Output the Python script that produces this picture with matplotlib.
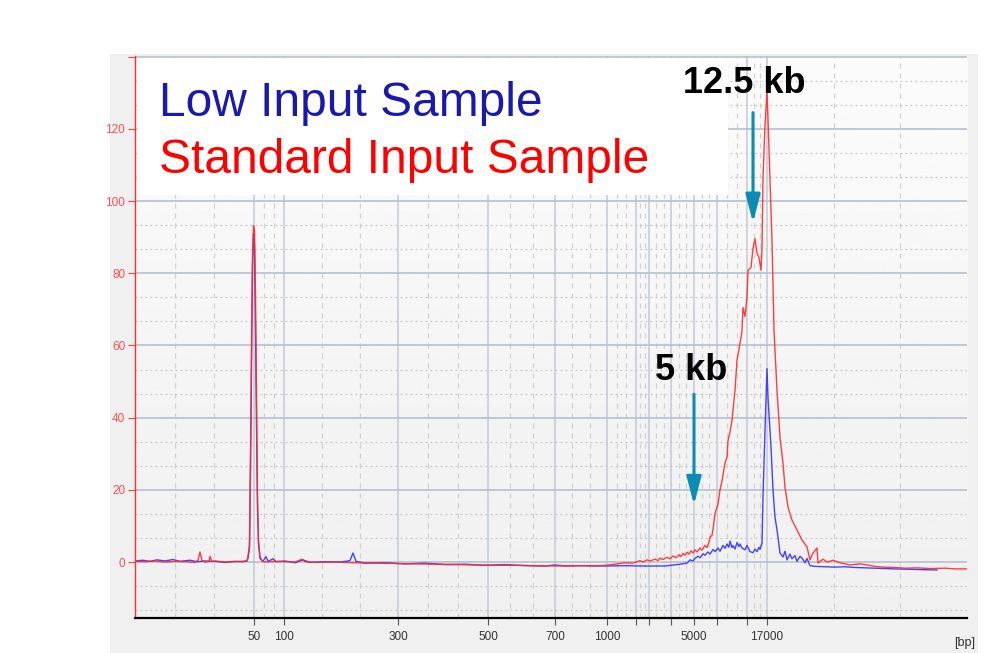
import numpy as np
import matplotlib
matplotlib.use("Agg")
import matplotlib.pyplot as plt
from matplotlib.patches import Rectangle

# ---------------- data (x = migration position, arbitrary units 0..832) ----------------
tick_labels = ["50", "100", "300", "500", "700", "1000", "2000", "5000", "17000"]
tick_pos = [119, 149, 263, 353, 420, 472, 513, 559, 632]
ladder_grid_pos = [0, 119, 149, 263, 353, 420, 472, 501, 514, 536, 559, 582, 612, 632, 832]

std_x = [0, 10, 20, 30, 40, 50, 60, 63, 65, 67, 70, 74, 75, 77, 80, 90, 100, 108, 112,
         113, 114.5, 115.5, 116.5, 117.5, 118.5, 119.5, 120.5, 121.5, 122.5, 123.5, 125,
         127, 130, 140, 150, 160, 167, 170, 180, 200, 220, 240, 260, 280, 300, 320, 340,
         360, 380, 400, 420, 440, 460, 465, 470, 480, 490, 498, 502, 505, 508, 512, 515,
         520, 523, 525, 528, 532, 535, 538, 541, 544, 546, 548, 550, 552, 554, 556, 558,
         560, 562, 565, 567, 570, 572, 574, 575, 577, 578, 580, 583, 585, 587, 590, 592,
         593, 595, 597, 600, 602, 605, 607, 608, 610, 612, 613, 616, 618, 620, 622, 624,
         626, 627, 628, 630, 632, 633, 635, 637, 639, 640, 642, 645, 648, 650, 653, 657,
         662, 667, 672, 675, 678, 682, 683, 688, 692, 698, 705, 715, 725, 732, 740, 748,
         760, 770, 782, 795, 810, 820, 832]
std_y = [0.2, 0.1, 0.3, 0.0, 0.2, 0.1, -0.1, 0.5, 2.8, 0.4, 0.0, 0.2, 1.6, 0.1, 0.3, 0.0,
         0.1, 0.2, 0.4, 1.5, 5, 30, 60, 85, 93.2, 92, 75, 45, 18, 6, 1.5, 0.3, 0.0, 0.2,
         0.1, 0.0, 0.8, 0.1, -0.1, 0.0, -0.2, -0.3, -0.4, -0.5, -0.6, -0.7, -0.8, -0.9,
         -0.9, -1.0, -1.1, -1.0, -1.1, -1.0, -0.9, -0.6, -0.2, -0.3, 0.1, 0.4, 0.0, 0.6,
         0.3, 0.8, 0.4, 1.1, 0.7, 1.3, 0.9, 1.7, 1.2, 2.0, 1.5, 2.4, 1.9, 2.7, 2.2, 3.1,
         2.5, 3.4, 2.8, 3.9, 3.3, 4.6, 4.0, 5.5, 6.9, 7.4, 9.0, 13.5, 16.0, 20, 22.5, 27.4,
         29.0, 33.7, 36.0, 39.3, 47.6, 55.9, 60.6, 64, 70.5, 68, 73.3, 80.8, 81.6, 87, 89.6,
         85.5, 84.4, 80.8, 87, 106.5, 121, 130.5, 123, 105.7, 89, 64.2, 58.6, 47.6, 34.6,
         27.4, 20.7, 15.2, 11.6, 8.9, 6.1, 4.2, 0.6, 2.5, 3.9, -0.3, 0.8, 0.0, 0.5, -0.2,
         -0.8, -0.5, -0.8, -1.2, -1.4, -1.5, -1.7, -1.6, -1.8, -1.7, -1.9, -1.9]

low_x = [0, 8, 15, 22, 30, 38, 45, 55, 62, 70, 80, 90, 100, 108, 112, 113, 114.5, 115.5,
         116.5, 117.5, 118.5, 119.5, 120.5, 121.5, 122.5, 123.5, 125, 128, 131, 133, 138,
         141, 150, 160, 168, 175, 190, 205, 215, 218, 221, 230, 250, 270, 290, 310, 330,
         350, 370, 390, 410, 420, 430, 450, 470, 490, 510, 530, 545, 552, 555, 558, 560,
         563, 565, 568, 570, 573, 575, 578, 580, 583, 585, 588, 590, 592, 594, 595, 597,
         598, 600, 602, 604, 605, 607, 610, 612, 613, 615, 618, 620, 622, 624, 625, 627,
         628, 630, 632, 633, 636, 638, 640, 642, 645, 648, 650, 652, 655, 657, 660, 662,
         665, 667, 670, 672, 675, 680, 690, 700, 710, 720, 730, 740, 750, 760, 775, 790, 802]
low_y = [0.3, 0.5, 0.2, 0.6, 0.3, 0.7, 0.2, 0.5, 0.1, 0.3, 0.2, -0.1, 0.2, 0.1, 0.3, 1, 4,
         25, 55, 82, 91, 88, 65, 38, 15, 5, 1, 0.2, 1.5, 0.2, 0.9, 0.1, 0.3, -0.2, 0.6,
         -0.1, 0.1, 0.0, 0.4, 2.5, 0.2, -0.3, -0.2, -0.5, -0.3, -0.7, -0.6, -0.9, -0.7,
         -1.0, -1.1, -0.8, -1.1, -1.0, -1.1, -1.0, -1.1, -1.1, -0.6, -0.3, 0.6, 0.3, 1.0,
         1.6, 1.2, 2.3, 1.9, 2.8, 2.2, 3.5, 2.9, 3.9, 3.0, 4.6, 3.8, 5.0, 4.1, 5.8, 4.0,
         4.6, 3.6, 5.4, 4.3, 5.0, 3.9, 3.4, 4.6, 4.0, 2.9, 2.6, 3.6, 2.9, 4.1, 3.5, 5.2,
         18, 36.5, 53.6, 45.6, 31.8, 20, 12.4, 8.9, 2.5, 1.4, 3.0, 0.6, 2.2, 0.9, 1.8, 0.2,
         1.6, 1.1, -0.2, 1.0, -1.0, -1.2, -1.3, -1.4, -1.3, -1.5, -1.6, -1.7, -1.8, -1.9,
         -2.0, -2.1, -2.2]

y_ticks = [0, 20, 40, 60, 80, 100, 120, 140]
y_tick_labels = ["0", "20", "40", "60", "80", "100", "120", ""]

# ---------------- figure ----------------
W, H, DPI = 997, 653, 100
fig = plt.figure(figsize=(W / DPI, H / DPI), dpi=DPI, facecolor="white")
bg = Rectangle((110 / W, 0), (978 - 110) / W, (653 - 54) / H,
               transform=fig.transFigure, facecolor="#f0f0f0",
               edgecolor="none", zorder=-10)
fig.add_artist(bg)

ax = fig.add_axes([135 / W, 1 - 618 / H, (967 - 135) / W, (618 - 56) / H])
ax.set_zorder(1)
ax.set_facecolor("none")
grad = np.linspace(0.985, 0.94, 256).reshape(-1, 1)
ax.imshow(grad, extent=[0, 1, 0, 1], transform=ax.transAxes, aspect="auto",
          cmap="gray", vmin=0, vmax=1, zorder=0, origin="upper")

ax.set_xlim(0, 832)
ax.set_ylim(-15.5, 140.2)

# grids
major_x = [p for p in ladder_grid_pos if 0 < p < 832]
minor_x = []
for a, b in zip(ladder_grid_pos[:-1], ladder_grid_pos[1:]):
    minor_x += [a + (b - a) / 3, a + 2 * (b - a) / 3]
ax.set_xticks(major_x)
ax.set_xticklabels([tick_labels[tick_pos.index(p)] if p in tick_pos else "" for p in major_x])
ax.set_xticks(minor_x, minor=True)
ax.set_yticks(y_ticks)
ax.set_yticklabels(y_tick_labels)
minor_y = []
for a in range(-20, 140, 20):
    minor_y += [a + 20 / 3, a + 40 / 3]
ax.set_yticks([v for v in minor_y if -15.5 < v < 140.2], minor=True)

ax.grid(True, which="major", axis="x", color="#c9cdd6", lw=1.2, ls="-", zorder=0.5)
ax.grid(True, which="minor", axis="x", color="#d2d2d2", lw=0.9, ls=(0, (4, 4)), zorder=0.5)
ax.grid(True, which="major", axis="y", color="#b9c0cc", lw=1.2, ls="-", zorder=0.5)
ax.grid(True, which="minor", axis="y", color="#c8c8c8", lw=0.9, ls=(0, (1.5, 2.5)), zorder=0.5)
ax.set_axisbelow(True)

ax.tick_params(which="minor", length=0)
ax.tick_params(axis="y", which="major", length=5, color="#ff4040", labelcolor="#ff5050",
               labelsize=8.5, pad=2)
ax.tick_params(axis="x", which="major", length=5, color="#555555", labelcolor="#333333",
               labelsize=8.5, pad=4)
for lab in ax.get_xticklabels() + ax.get_yticklabels():
    lab.set_fontfamily("Liberation Sans")

for s in ["top", "right"]:
    ax.spines[s].set_visible(False)
ax.spines["left"].set_color("#ff3030")
ax.spines["left"].set_linewidth(1.0)
ax.spines["bottom"].set_color("black")
ax.spines["bottom"].set_linewidth(1.6)

ax.text(1.01, -0.033, "[bp]", transform=ax.transAxes, ha="right", va="top",
        fontsize=9, color="#333333", family="Liberation Sans")

# legend box
ax.add_patch(Rectangle((1.5, 101.8), 591, 37.8, facecolor="white", edgecolor="none", zorder=1.5))
ax.text(24, 123.7, "Low Input Sample", color="#1a1aaa", fontsize=34.5,
        family="Liberation Sans", va="baseline", ha="left", zorder=3)
ax.text(24, 107.9, "Standard Input Sample", color="#ff0000", fontsize=34.5,
        family="Liberation Sans", va="baseline", ha="left", zorder=3)

# traces
ax.plot(low_x, low_y, color="#3030ff", lw=1.0, zorder=2, alpha=0.9)
ax.plot(std_x, std_y, color="#ff2a2a", lw=1.0, zorder=2.1, alpha=0.9)

# annotations
arrow_color = "#0a8cb4"
arrow_style = "-|>,head_length=0.85,head_width=0.22"
ax.text(548, 130, "12.5 kb", fontsize=26, fontweight="bold", family="Liberation Sans",
        color="black", ha="left", va="baseline", zorder=4)
ax.annotate("", xy=(618, 94), xytext=(618, 124.5),
            arrowprops=dict(arrowstyle=arrow_style, mutation_scale=20, color=arrow_color,
                            lw=2.2, shrinkA=0, shrinkB=0), zorder=4)
ax.text(520, 50.3, "5 kb", fontsize=26, fontweight="bold", family="Liberation Sans",
        color="black", ha="left", va="baseline", zorder=4)
ax.annotate("", xy=(559, 15.8), xytext=(559, 46.5),
            arrowprops=dict(arrowstyle=arrow_style, mutation_scale=20, color=arrow_color,
                            lw=2.2, shrinkA=0, shrinkB=0), zorder=4)

fig.savefig("out.png", dpi=DPI)
